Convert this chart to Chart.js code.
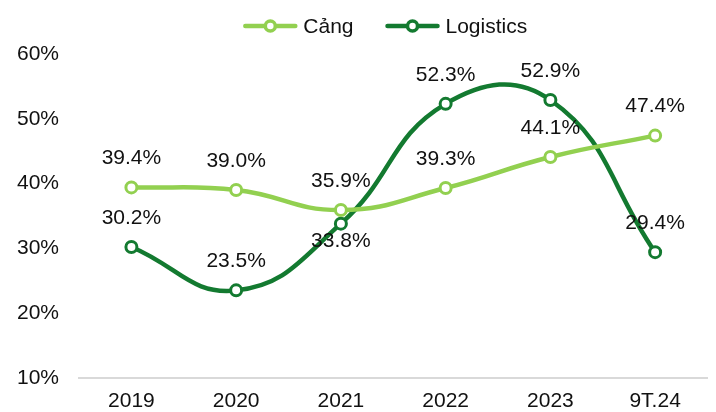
<!DOCTYPE html>
<html>
<head>
<meta charset="utf-8">
<script src="https://cdn.jsdelivr.net/npm/chart.js@4"></script>
<style>
  html, body { margin: 0; padding: 0; background: #fff; }
  #wrap { width: 716px; height: 412px; }
</style>
</head>
<body>
<div id="wrap"><canvas id="c"></canvas></div>
<script>
var categories = ['2019', '2020', '2021', '2022', '2023', '9T.24'];
var cangValues = [39.4, 39.0, 35.9, 39.3, 44.1, 47.4];
var logisticsValues = [30.2, 23.5, 33.8, 52.3, 52.9, 29.4];
// label above (1) or below (-1) the point
var cangLabelSide = [1, 1, 1, 1, 1, 1];
var logisticsLabelSide = [1, 1, -1, 1, 1, 1];

var lightGreen = '#92D050';
var darkGreen = '#137A30';
var fontFamily = '"Liberation Sans", Arial, sans-serif';
var fontSize = 21;

var valueLabels = {
  id: 'valueLabels',
  afterDatasetsDraw: function(chart) {
    var ctx = chart.ctx;
    ctx.save();
    ctx.font = fontSize + 'px ' + fontFamily;
    ctx.fillStyle = '#111';
    ctx.textAlign = 'center';
    ctx.textBaseline = 'middle';
    chart.data.datasets.forEach(function(ds, i) {
      var meta = chart.getDatasetMeta(i);
      meta.data.forEach(function(pt, j) {
        var side = ds.labelSide[j];
        var y = side > 0 ? pt.y - 29 : pt.y + 18;
        ctx.fillText(ds.data[j].toFixed(1) + '%', pt.x, y);
      });
    });
    ctx.restore();
  }
};

// legend drawn by hand: line with hollow circle, then the series name
var lineLegend = {
  id: 'lineLegend',
  afterDraw: function(chart) {
    var ctx = chart.ctx;
    var symW = 54, textGap = 6, itemGap = 32, y = 26;
    ctx.save();
    ctx.font = fontSize + 'px ' + fontFamily;
    var total = 0;
    chart.data.datasets.forEach(function(ds, i) {
      total += symW + textGap + ctx.measureText(ds.label).width;
      if (i > 0) total += itemGap;
    });
    var x = (chart.chartArea.left + chart.chartArea.right) / 2 - total / 2 - 8;
    chart.data.datasets.forEach(function(ds) {
      ctx.strokeStyle = ds.borderColor;
      ctx.lineWidth = 4.5;
      ctx.lineCap = 'round';
      ctx.beginPath(); ctx.moveTo(x + 2, y); ctx.lineTo(x + symW - 2, y); ctx.stroke();
      ctx.fillStyle = '#fff';
      ctx.lineWidth = 3.5;
      ctx.beginPath(); ctx.arc(x + symW / 2, y, 5, 0, Math.PI * 2); ctx.fill(); ctx.stroke();
      ctx.fillStyle = '#111';
      ctx.textAlign = 'left';
      ctx.textBaseline = 'middle';
      ctx.fillText(ds.label, x + symW + textGap, y + 1);
      x += symW + textGap + ctx.measureText(ds.label).width + itemGap;
    });
    ctx.restore();
  }
};

new Chart(document.getElementById('c'), {
  type: 'line',
  data: {
    labels: categories,
    datasets: [
      {
        label: 'Cảng',
        data: cangValues,
        labelSide: cangLabelSide,
        borderColor: lightGreen,
        backgroundColor: '#fff',
        borderWidth: 4.5,
        pointRadius: 5.5,
        pointBorderWidth: 3,
        pointBackgroundColor: '#fff',
        pointBorderColor: lightGreen,
        tension: 0.45
      },
      {
        label: 'Logistics',
        data: logisticsValues,
        labelSide: logisticsLabelSide,
        borderColor: darkGreen,
        backgroundColor: '#fff',
        borderWidth: 4.5,
        pointRadius: 5.5,
        pointBorderWidth: 3,
        pointBackgroundColor: '#fff',
        pointBorderColor: darkGreen,
        tension: 0.45
      }
    ]
  },
  options: {
    responsive: true,
    maintainAspectRatio: false,
    animation: false,
    layout: { padding: { left: -3, right: 8, top: 54, bottom: -13 } },
    plugins: {
      tooltip: { enabled: false },
      legend: { display: false }
    },
    scales: {
      x: {
        offset: true,
        grid: { display: false, drawTicks: false },
        border: { display: true, color: '#d9d9d9', width: 2 },
        ticks: { color: '#111', padding: 11, font: { family: fontFamily, size: fontSize } }
      },
      y: {
        min: 10,
        max: 60,
        grid: { display: false, drawTicks: false },
        border: { display: false },
        ticks: {
          stepSize: 10,
          color: '#111',
          padding: 20,
          font: { family: fontFamily, size: fontSize },
          callback: function(v) { return v + '%'; }
        }
      }
    }
  },
  plugins: [valueLabels, lineLegend]
});
</script>
</body>
</html>
